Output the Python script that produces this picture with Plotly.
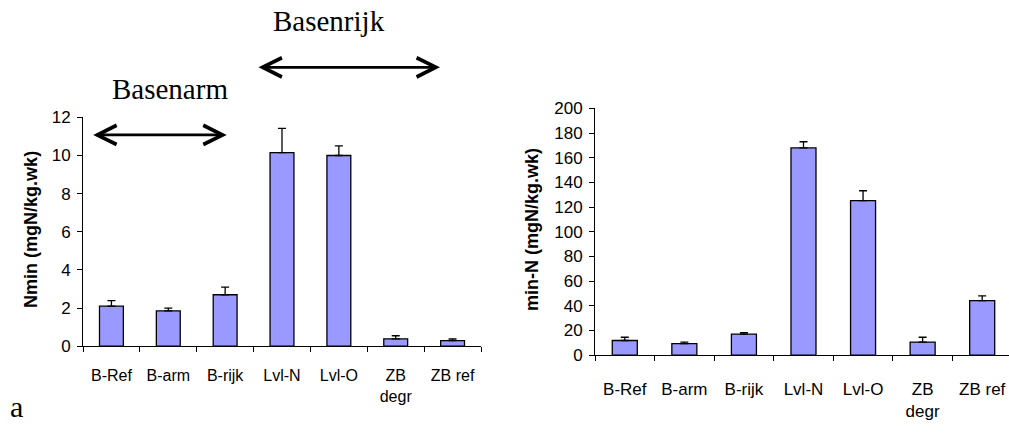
import plotly.graph_objects as go

categories = ["B-Ref", "B-arm", "B-rijk", "Lvl-N", "Lvl-O", "ZB degr", "ZB ref"]
tick_labels = ["B-Ref", "B-arm", "B-rijk", "Lvl-N", "Lvl-O", "ZB<br>degr", "ZB ref"]

nmin_values = [2.1, 1.85, 2.7, 10.15, 10.0, 0.39, 0.3]
nmin_errors = [0.29, 0.15, 0.4, 1.27, 0.5, 0.16, 0.08]

minN_values = [11.9, 9.3, 17.0, 168.0, 125.3, 10.6, 44.2]
minN_errors = [2.6, 1.3, 1.3, 5.0, 8.0, 3.9, 3.8]

W, H = 1009, 434
BAR = "#9999FF"

def px(x):
    return x / W

def py(y):
    return 1 - y / H

fig = go.Figure()

fig.add_trace(go.Bar(
    x=categories, y=nmin_values, width=0.42,
    marker=dict(color=BAR, line=dict(color="black", width=1.3)),
    error_y=dict(type="data", symmetric=False, array=nmin_errors,
                 arrayminus=[0] * len(nmin_errors), color="black",
                 thickness=1.3, width=4),
    xaxis="x", yaxis="y", showlegend=False))

fig.add_trace(go.Bar(
    x=categories, y=minN_values, width=0.42,
    marker=dict(color=BAR, line=dict(color="black", width=1.3)),
    error_y=dict(type="data", symmetric=False, array=minN_errors,
                 arrayminus=[0] * len(minN_errors), color="black",
                 thickness=1.3, width=4),
    xaxis="x2", yaxis="y2", showlegend=False))

FAM = "Liberation Sans, Arial"

def xax(size, standoff):
    return dict(type="category", categoryorder="array", categoryarray=categories,
                tickvals=categories, ticktext=tick_labels,
                showline=True, linecolor="black", linewidth=1,
                ticks="outside", tickson="boundaries", ticklen=5,
                tickcolor="black", tickfont=dict(family=FAM, size=size, color="black"),
                ticklabelstandoff=standoff, showgrid=False, zeroline=False)

def yax(size):
    return dict(showline=True, linecolor="black", linewidth=1,
                ticks="outside", ticklen=5, tickcolor="black",
                tickfont=dict(family=FAM, size=size, color="black"),
                ticklabelstandoff=3, showgrid=False, zeroline=False)

fig.update_layout(
    width=W, height=H,
    margin=dict(l=0, r=0, t=0, b=0),
    paper_bgcolor="white", plot_bgcolor="white",
    xaxis=dict(domain=[px(83), px(481)], range=[-0.5, 6.5], anchor="y", **xax(16, 15)),
    yaxis=dict(domain=[py(352.7), py(113.3)], range=[0, 12], dtick=2,
               anchor="x", **yax(17)),
    xaxis2=dict(domain=[px(595), 1.0], range=[-0.5, 6.45], anchor="y2", **xax(17, 18)),
    yaxis2=dict(domain=[py(362), py(104)], range=[0, 200], dtick=20,
                anchor="x2", **yax(17)),
)

title_font = dict(family=FAM, size=18, color="black")
serif = dict(family="Liberation Serif, Times New Roman", color="black")

annotations = [
    dict(text="<b>Nmin (mgN/kg.wk)</b>", x=px(31), y=py(231), xref="paper",
         yref="paper", textangle=-90, showarrow=False, font=title_font,
         xanchor="center", yanchor="middle"),
    dict(text="<b>min-N (mgN/kg.wk)</b>", x=px(532), y=py(231), xref="paper",
         yref="paper", textangle=-90, showarrow=False, font=title_font,
         xanchor="center", yanchor="middle"),
    dict(text="Basenarm", x=px(170), y=py(84), xref="paper", yref="paper",
         showarrow=False, font=dict(size=29, **serif),
         xanchor="center", yanchor="middle"),
    dict(text="Basenrijk", x=px(329), y=py(13), xref="paper", yref="paper",
         showarrow=False, font=dict(size=29, **serif),
         xanchor="center", yanchor="middle"),
    dict(text="a", x=px(16), y=py(416), xref="paper", yref="paper",
         showarrow=False, font=dict(size=30, **serif),
         xanchor="center", yanchor="middle"),
    # double-headed arrows
    dict(text="", x=px(226.7), y=py(131.7), xref="paper", yref="paper",
         ax=-(226.7 - 91.7), ay=0, showarrow=True, arrowhead=5, startarrowhead=5,
         arrowside="end+start", arrowwidth=2.8, arrowsize=1.35, startarrowsize=1.35,
         arrowcolor="black", standoff=0, startstandoff=0),
    dict(text="", x=px(440), y=py(61), xref="paper", yref="paper",
         ax=-(440 - 257), ay=0, showarrow=True, arrowhead=5, startarrowhead=5,
         arrowside="end+start", arrowwidth=2.8, arrowsize=1.35, startarrowsize=1.35,
         arrowcolor="black", standoff=0, startstandoff=0),
]
fig.update_layout(annotations=annotations)

fig.write_html("out.html")
